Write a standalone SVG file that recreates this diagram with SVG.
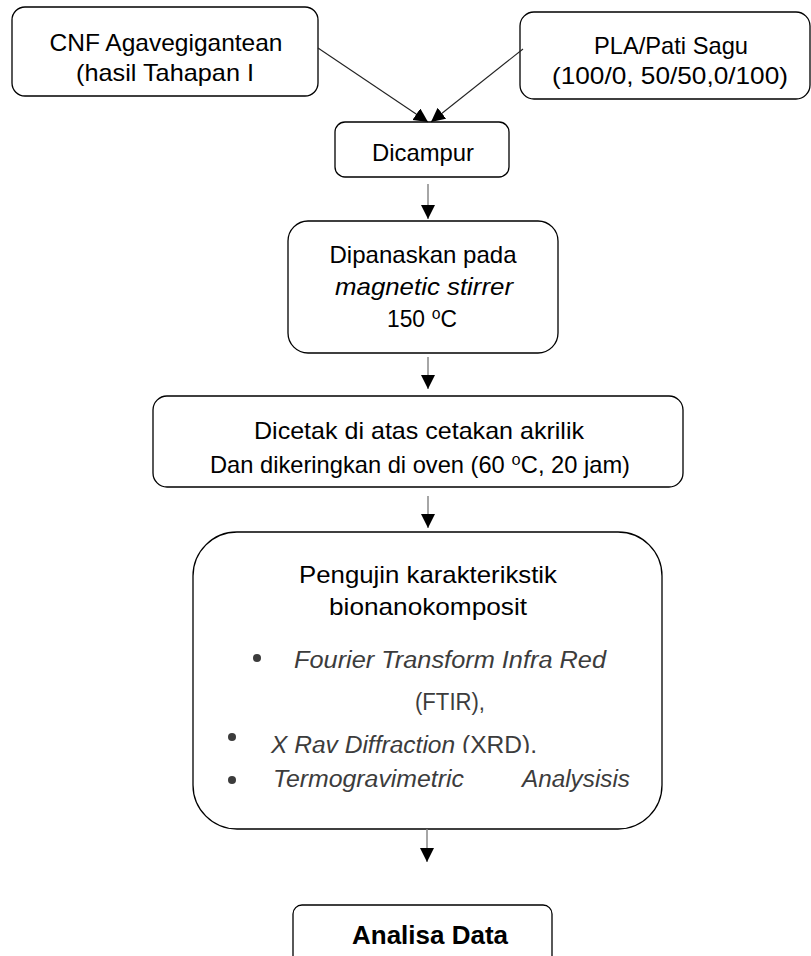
<svg xmlns="http://www.w3.org/2000/svg" width="811" height="956" viewBox="0 0 811 956">
<style>
.box{fill:#fff;stroke:#000;stroke-width:1.3}
.t{font-family:"Liberation Sans","DejaVu Sans",Arial,sans-serif;font-size:24px;fill:#000;text-anchor:middle}
.it{font-style:italic}
.gl{font-family:"Liberation Sans","DejaVu Sans",Arial,sans-serif;font-size:23px;fill:#3c3c3c}
.diag{stroke:#222;stroke-width:1.1;fill:none}
.vert{stroke:#888;stroke-width:1.5;fill:none}
.b{font-family:"Liberation Sans",Arial,sans-serif;font-size:26px;font-weight:bold;fill:#000;text-anchor:middle}
</style>
<defs>
<marker id="ah" markerUnits="userSpaceOnUse" markerWidth="16" markerHeight="16" refX="14" refY="7" orient="auto">
<path d="M0,0 L14,7 L0,14 z" fill="#000"/>
</marker>
<clipPath id="clipX"><rect x="190" y="700" width="470" height="53"/></clipPath>
</defs>
<rect width="811" height="956" fill="#fff"/>

<g id="node-cnf">
<rect class="box" x="12" y="7" width="306" height="89" rx="13"/>
<text class="t" x="166" y="51" textLength="233" lengthAdjust="spacingAndGlyphs">CNF Agavegigantean</text>
<text class="t" x="165" y="81" textLength="178" lengthAdjust="spacingAndGlyphs">(hasil Tahapan I</text>
</g>

<g id="node-pla">
<rect class="box" x="520" y="12" width="290" height="87" rx="14"/>
<text class="t" x="671" y="54" textLength="154" lengthAdjust="spacingAndGlyphs">PLA/Pati Sagu</text>
<text class="t" x="670" y="84" textLength="236" lengthAdjust="spacingAndGlyphs">(100/0, 50/50,0/100)</text>
</g>

<g id="node-dicampur">
<rect class="box" x="335" y="122" width="174" height="55" rx="10"/>
<text class="t" x="423" y="161" textLength="102" lengthAdjust="spacingAndGlyphs">Dicampur</text>
</g>

<g id="node-dipanaskan">
<rect class="box" x="288" y="221" width="270" height="132" rx="20"/>
<text class="t" x="423" y="263" textLength="187" lengthAdjust="spacingAndGlyphs">Dipanaskan pada</text>
<text class="t it" x="424" y="295" textLength="178" lengthAdjust="spacingAndGlyphs">magnetic stirrer</text>
<text class="t" x="422" y="327" textLength="70" lengthAdjust="spacingAndGlyphs">150 ⁰C</text>
</g>

<g id="node-dicetak">
<rect class="box" x="153" y="396" width="530" height="91" rx="14"/>
<text class="t" x="419" y="439" textLength="330" lengthAdjust="spacingAndGlyphs">Dicetak di atas cetakan akrilik</text>
<text class="t" x="420" y="473" textLength="420" lengthAdjust="spacingAndGlyphs">Dan dikeringkan di oven (60 ⁰C, 20 jam)</text>
</g>

<g id="node-pengujian">
<rect class="box" x="193" y="532" width="469" height="297" rx="44"/>
<text class="t" x="428" y="583" textLength="258" lengthAdjust="spacingAndGlyphs">Pengujin karakterikstik</text>
<text class="t" x="428" y="615" textLength="198" lengthAdjust="spacingAndGlyphs">bionanokomposit</text>
<circle cx="257" cy="658" r="4" fill="#3c3c3c"/>
<text class="gl it" x="294" y="668" textLength="312" lengthAdjust="spacingAndGlyphs">Fourier Transform Infra Red</text>
<text class="gl" x="415" y="710" textLength="70" lengthAdjust="spacingAndGlyphs">(FTIR),</text>
<circle cx="232" cy="737" r="4" fill="#3c3c3c"/>
<g clip-path="url(#clipX)">
<text class="gl" x="271" y="753" textLength="266" lengthAdjust="spacingAndGlyphs"><tspan class="it">X Rav Diffraction</tspan> (XRD).</text>
</g>
<circle cx="232" cy="780" r="4" fill="#3c3c3c"/>
<text class="gl it" x="273" y="787" textLength="191" lengthAdjust="spacingAndGlyphs">Termogravimetric</text>
<text class="gl it" x="522" y="787" textLength="108" lengthAdjust="spacingAndGlyphs">Analysisis</text>
</g>

<g id="node-analisa">
<rect class="box" x="293" y="905" width="259" height="70" rx="9"/>
<text class="b" x="430" y="944" textLength="156" lengthAdjust="spacingAndGlyphs">Analisa Data</text>
</g>

<g id="connectors">
<line class="diag" x1="318" y1="48" x2="428" y2="122" marker-end="url(#ah)"/>
<line class="diag" x1="523" y1="49" x2="431" y2="122" marker-end="url(#ah)"/>
<line class="vert" x1="428" y1="184" x2="428" y2="219" marker-end="url(#ah)"/>
<line class="vert" x1="428" y1="357" x2="428" y2="389" marker-end="url(#ah)"/>
<line class="vert" x1="428" y1="496" x2="428" y2="528" marker-end="url(#ah)"/>
<line class="vert" x1="427" y1="829" x2="427" y2="862" marker-end="url(#ah)"/>
</g>
</svg>
